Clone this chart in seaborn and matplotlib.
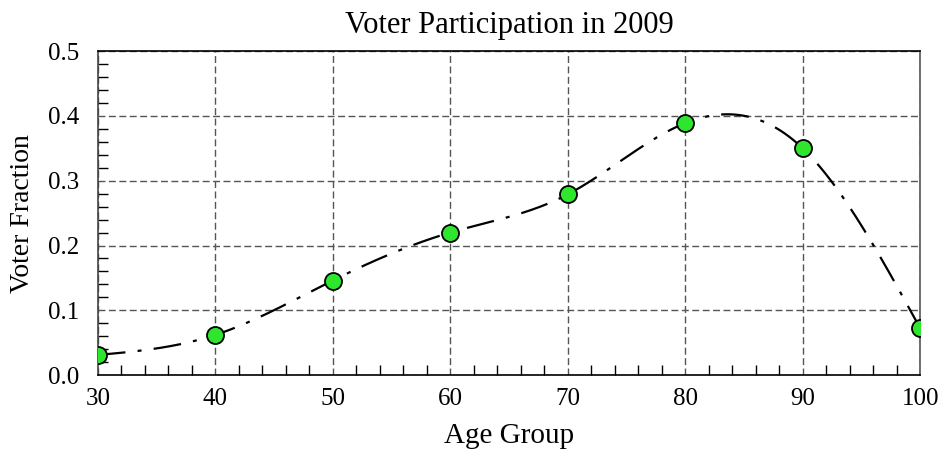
import numpy as np
import pandas as pd
import matplotlib
matplotlib.use("Agg")
import matplotlib.pyplot as plt
import seaborn as sns

age_groups = [30, 40, 50, 60, 70, 80, 90, 100]
voter_fraction = [0.031, 0.062, 0.146, 0.220, 0.279, 0.389, 0.350, 0.072]


def spline_curve(x, y, n=600):
    # natural cubic spline through the points (smooth connecting line)
    x = np.asarray(x, float)
    y = np.asarray(y, float)
    k = len(x)
    h = np.diff(x)
    A = np.zeros((k, k))
    b = np.zeros(k)
    A[0, 0] = A[-1, -1] = 1
    for i in range(1, k - 1):
        A[i, i - 1] = h[i - 1]
        A[i, i] = 2 * (h[i - 1] + h[i])
        A[i, i + 1] = h[i]
        b[i] = 3 * ((y[i + 1] - y[i]) / h[i] - (y[i] - y[i - 1]) / h[i - 1])
    c = np.linalg.solve(A, b)
    xs = np.linspace(x[0], x[-1], n)
    idx = np.clip(np.searchsorted(x, xs) - 1, 0, k - 2)
    dx = xs - x[idx]
    hi = h[idx]
    bb = (y[idx + 1] - y[idx]) / hi - hi * (2 * c[idx] + c[idx + 1]) / 3
    d = (c[idx + 1] - c[idx]) / (3 * hi)
    return xs, y[idx] + bb * dx + c[idx] * dx ** 2 + d * dx ** 3


sns.set_style("white")
plt.rcParams['font.family'] = ['Liberation Serif', 'DejaVu Serif']
plt.rcParams['text.color'] = 'black'

points = pd.DataFrame({'age': age_groups, 'fraction': voter_fraction})
xs, ys = spline_curve(age_groups, voter_fraction)
curve = pd.DataFrame({'age': xs, 'fraction': ys})

fig = plt.figure(figsize=(9.4, 4.53), dpi=100)
ax = fig.add_axes([0.104, 0.172, 0.875, 0.715])

sns.lineplot(data=curve, x='age', y='fraction', ax=ax, color='black',
             linewidth=1.6, zorder=3, estimator=None)
ax.lines[0].set_dashes([12.5, 5.5, 1.8, 5.5])
sns.scatterplot(data=points, x='age', y='fraction', ax=ax, color='#2ee62e',
                edgecolor='black', linewidth=1.3, s=150, zorder=4)

ax.set_xlim(30, 100)
ax.set_ylim(0, 0.5)
ax.set_xticks(range(30, 101, 10))
ax.set_yticks(np.arange(0, 0.51, 0.1))
ax.set_yticklabels(['0.0', '0.1', '0.2', '0.3', '0.4', '0.5'])
ax.set_xticks(np.arange(30, 101, 2), minor=True)
ax.set_yticks(np.arange(0, 0.501, 0.02), minor=True)
ax.tick_params(axis='both', which='both', direction='in', labelsize=18,
               colors='black', left=True, bottom=True, top=False, right=False)
ax.tick_params(axis='x', which='major', length=0, pad=9)
ax.tick_params(axis='y', which='major', length=0, pad=13)
ax.tick_params(axis='both', which='minor', length=7, width=1)

ax.grid(True, which='major', linestyle=(0, (5, 2.5)), color='#555555', linewidth=1)
for sp in ax.spines.values():
    sp.set_color('black')
    sp.set_linewidth(1.2)
ax.spines['left'].set_color('#444444')
ax.spines['right'].set_color('#555555')

ax.set_title('Voter Participation in 2009', fontsize=22, pad=13, color='black')
ax.set_xlabel('Age Group', fontsize=21, labelpad=10, color='black')
ax.set_ylabel('Voter Fraction', fontsize=20, labelpad=10, color='black')

fig.savefig('out.png', dpi=100)
